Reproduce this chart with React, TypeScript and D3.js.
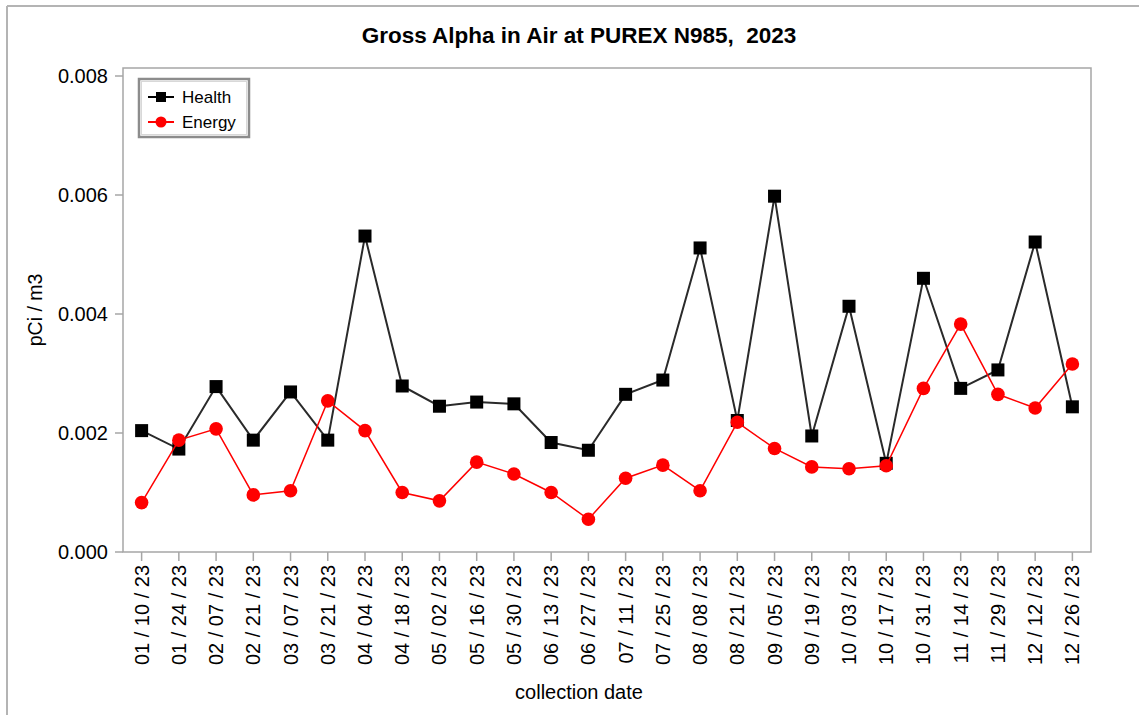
import React from "react";
import * as d3 from "d3";

const dates = [
  "01 / 10 / 23", "01 / 24 / 23", "02 / 07 / 23", "02 / 21 / 23", "03 / 07 / 23",
  "03 / 21 / 23", "04 / 04 / 23", "04 / 18 / 23", "05 / 02 / 23", "05 / 16 / 23",
  "05 / 30 / 23", "06 / 13 / 23", "06 / 27 / 23", "07 / 11 / 23", "07 / 25 / 23",
  "08 / 08 / 23", "08 / 21 / 23", "09 / 05 / 23", "09 / 19 / 23", "10 / 03 / 23",
  "10 / 17 / 23", "10 / 31 / 23", "11 / 14 / 23", "11 / 29 / 23", "12 / 12 / 23",
  "12 / 26 / 23",
];

const health = [
  0.00204, 0.00173, 0.00278, 0.00188, 0.00269, 0.00188, 0.00531, 0.00279, 0.00245, 0.00252,
  0.00249, 0.00184, 0.00171, 0.00265, 0.00289, 0.00511, 0.00221, 0.00598, 0.00195, 0.00413,
  0.00149, 0.00460, 0.00275, 0.00306, 0.00521, 0.00244,
];

const energy = [
  0.00083, 0.00188, 0.00207, 0.00096, 0.00103, 0.00254, 0.00204, 0.00100, 0.00086, 0.00151,
  0.00131, 0.00100, 0.00055, 0.00124, 0.00146, 0.00103, 0.00218, 0.00174, 0.00143, 0.00140,
  0.00145, 0.00275, 0.00383, 0.00265, 0.00242, 0.00316,
];

const yTicks = [0, 0.002, 0.004, 0.006, 0.008];

const title = "Gross Alpha in Air at PUREX N985,  2023";
const xTitle = "collection date";
const yTitle = "pCi / m3";
const seriesNames = ["Health", "Energy"];

const W = 1139;
const H = 715;
const plot = { left: 123, right: 1091, top: 68, bottom: 552 };
const FONT = "'Liberation Sans', Arial, sans-serif";
const AXIS_GRAY = "#a6a6a6";

export default function App() {
  const x = d3
    .scalePoint<string>()
    .domain(dates)
    .range([plot.left, plot.right])
    .padding(0.5);
  const y = d3.scaleLinear().domain([0, 0.008]).range([plot.bottom, 76]);

  const line = d3
    .line<number>()
    .x((_, i) => x(dates[i]) as number)
    .y((d) => y(d));

  const fmt = d3.format(".3f");
  const sq = 13;
  const titleCx = 579;

  return (
    <svg
      width={W}
      height={H}
      style={{ position: "absolute", left: 0, top: 0, display: "block" }}
      fontFamily={FONT}
    >
      <rect x={0} y={0} width={W} height={H} fill="#ffffff" />
      {/* outer frame */}
      <line x1={7} y1={6} x2={W} y2={6} stroke="#b4b4b4" strokeWidth={2} />
      <line x1={7} y1={6} x2={7} y2={H} stroke="#b4b4b4" strokeWidth={2} />

      <text
        x={titleCx}
        y={43}
        textAnchor="middle"
        fontWeight="bold"
        fontSize={22.5}
        fill="#000"
        style={{ whiteSpace: "pre" }}
      >
        {title}
      </text>

      {/* plot border */}
      <rect
        x={plot.left}
        y={plot.top}
        width={plot.right - plot.left}
        height={plot.bottom - plot.top}
        fill="none"
        stroke={AXIS_GRAY}
        strokeWidth={1.5}
      />

      {/* y ticks */}
      {yTicks.map((t) => (
        <g key={t}>
          <line x1={plot.left - 8} x2={plot.left} y1={y(t)} y2={y(t)} stroke={AXIS_GRAY} strokeWidth={1.5} />
          <text x={108} y={y(t)} dy="0.35em" textAnchor="end" fontSize={20} fill="#000">
            {fmt(t)}
          </text>
        </g>
      ))}

      {/* x ticks */}
      {dates.map((d) => {
        const px = x(d) as number;
        return (
          <g key={d}>
            <line x1={px} x2={px} y1={plot.bottom} y2={plot.bottom + 9} stroke={AXIS_GRAY} strokeWidth={1.5} />
            <text
              transform={`translate(${px},565) rotate(-90)`}
              dy="0.35em"
              textAnchor="end"
              fontSize={20}
              fill="#000"
            >
              {d}
            </text>
          </g>
        );
      })}

      <text x={titleCx} y={699} textAnchor="middle" fontSize={20} fill="#000">
        {xTitle}
      </text>
      <text
        transform={`translate(42,${(plot.top + plot.bottom) / 2}) rotate(-90)`}
        textAnchor="middle"
        fontSize={19.5}
        fill="#000"
      >
        {yTitle}
      </text>

      {/* Health series */}
      <path d={line(health) || ""} fill="none" stroke="#2a2a2a" strokeWidth={2} />
      {health.map((v, i) => (
        <rect
          key={"h" + i}
          x={(x(dates[i]) as number) - sq / 2}
          y={y(v) - sq / 2}
          width={sq}
          height={sq}
          fill="#000"
        />
      ))}

      {/* Energy series */}
      <path d={line(energy) || ""} fill="none" stroke="#ff0000" strokeWidth={1.5} />
      {energy.map((v, i) => (
        <circle key={"e" + i} cx={x(dates[i]) as number} cy={y(v)} r={6.8} fill="#ff0000" />
      ))}

      {/* legend */}
      <rect x={139} y={79} width={110} height={58} fill="#fff" stroke="#8c8c8c" strokeWidth={2.5} />
      <rect x={141.5} y={81.5} width={105} height={53} fill="none" stroke="#d8d8d8" strokeWidth={1} />
      <g>
        <line x1={148} x2={174} y1={97} y2={97} stroke="#000" strokeWidth={2} />
        <rect x={156} y={92} width={10} height={10} fill="#000" />
        <text x={182} y={97} dy="0.35em" fontSize={17} fill="#000">
          {seriesNames[0]}
        </text>
      </g>
      <g>
        <line x1={148} x2={174} y1={122} y2={122} stroke="#ff0000" strokeWidth={2} />
        <circle cx={161} cy={122} r={5.5} fill="#ff0000" />
        <text x={182} y={122} dy="0.35em" fontSize={17} fill="#000">
          {seriesNames[1]}
        </text>
      </g>
    </svg>
  );
}
